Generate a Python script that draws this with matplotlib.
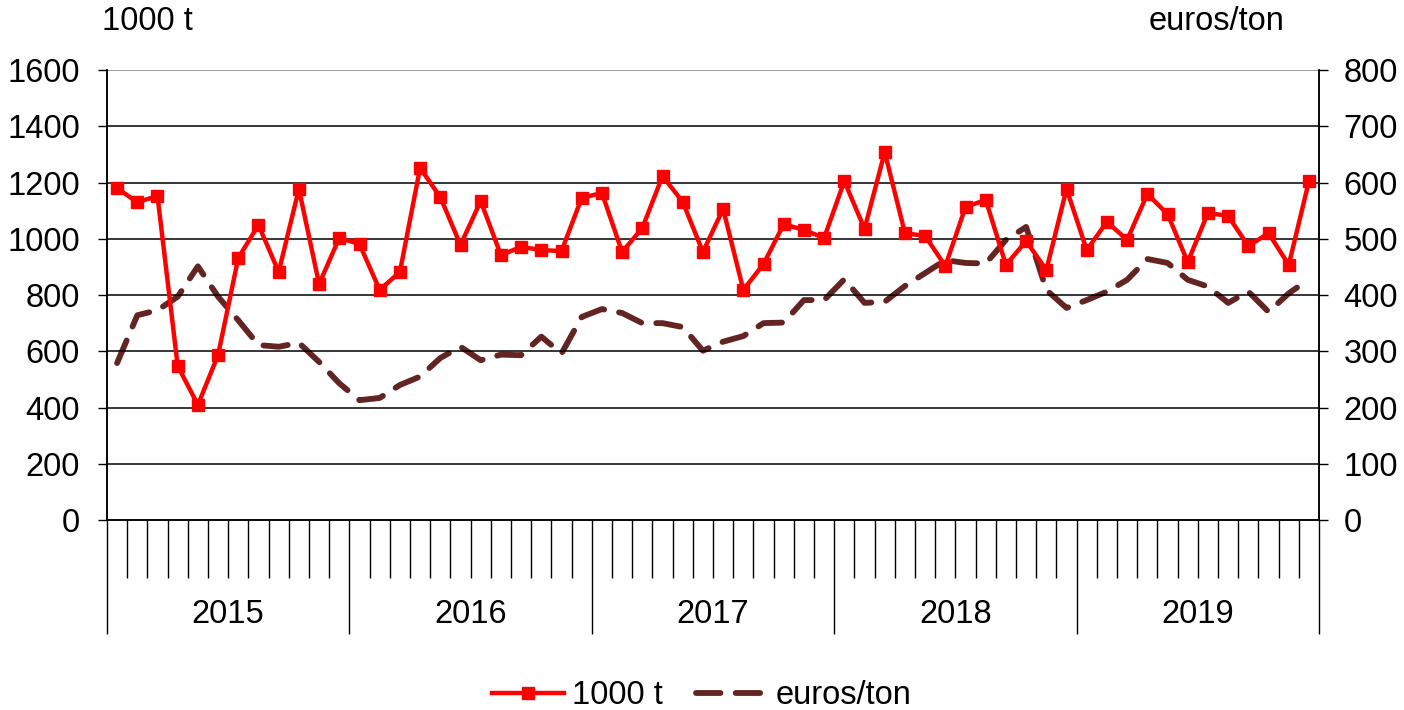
import numpy as np
import matplotlib
matplotlib.use('Agg')
import matplotlib.pyplot as plt
import matplotlib.transforms as mtransforms

plt.rcParams['font.family'] = ['Liberation Sans', 'DejaVu Sans']

years = ['2015', '2016', '2017', '2018', '2019']

# monthly quantity, 1000 t
tonnes = [1180, 1130, 1152, 548, 409, 587, 932, 1049, 882, 1177, 839, 1003,
          981, 818, 882, 1252, 1148, 978, 1134, 942, 971, 960, 956, 1145,
          1163, 953, 1038, 1223, 1131, 953, 1106, 818, 910, 1052, 1031, 1003,
          1205, 1035, 1308, 1020, 1010, 903, 1113, 1138, 907, 992, 889, 1177,
          960, 1060, 996, 1159, 1088, 917, 1092, 1081, 974, 1020, 907, 1205]

# monthly price, euros/ton
price = [279, 364, 373, 397, 451, 397, 355, 311, 308, 315, 281, 243,
         213, 217, 240, 255, 288, 308, 284, 294, 293, 326, 296, 361,
         375, 368, 350, 350, 343, 301, 317, 327, 350, 351, 391, 391,
         428, 386, 388, 416, 439, 462, 457, 456, 498, 521, 409, 377,
         391, 406, 427, 464, 457, 427, 415, 386, 406, 370, 403, 428]

x = np.arange(len(tonnes))
fs = 23.5

fig = plt.figure(figsize=(14.04, 7.10), dpi=100)
ax = fig.add_axes([0.0762, 0.2676, 0.8633, 0.6338])
ax2 = ax.twinx()

# gridlines
for v in range(200, 1601, 200):
    ax.axhline(v, color='#808080' if v == 1600 else 'black', lw=1.1, zorder=0)

l1, = ax.plot(x, tonnes, color='#FF0000', lw=3.2, marker='s', markersize=9,
              label='1000 t', zorder=3)
l2, = ax2.plot(x, price, color='#632523', lw=4.2, dashes=(4.2, 2.6),
               dash_capstyle='round', label='euros/ton', zorder=2)
ax.set_zorder(ax2.get_zorder() + 1)
ax.patch.set_visible(False)

ax.set_xlim(-0.5, len(tonnes) - 0.5)
ax.set_ylim(0, 1600)
ax2.set_ylim(0, 800)
ax.set_yticks(range(0, 1601, 200))
ax2.set_yticks(range(0, 801, 100))

ax.tick_params(axis='y', labelsize=fs, length=6.5, width=1, direction='out', pad=13)
ax2.tick_params(axis='y', labelsize=fs, length=6.5, width=1, direction='out', pad=11)

# x axis: month separators and year separators
ax.set_xticks(np.arange(0, len(tonnes) + 1, 12) - 0.5)
ax.set_xticks(np.arange(0, len(tonnes) + 1) - 0.5, minor=True)
ax.set_xticklabels([])
ax.tick_params(axis='x', which='major', length=82, width=1, direction='out')
ax.tick_params(axis='x', which='minor', length=42, width=1, direction='out')

trans = mtransforms.blended_transform_factory(ax.transData, ax.transAxes)
for i, yr in enumerate(years):
    ax.text(i * 12 + 5.5, -0.209, yr, transform=trans, ha='center', va='center',
            fontsize=fs)

for a in (ax, ax2):
    a.spines['top'].set_visible(False)
    for s in a.spines.values():
        s.set_linewidth(1.1)

fig.text(0.073, 0.97, '1000 t', ha='left', va='center', fontsize=fs)
fig.text(0.915, 0.97, 'euros/ton', ha='right', va='center', fontsize=fs)

fig.legend(handles=[l1, l2], loc='center', bbox_to_anchor=(0.5, 0.02),
           ncol=2, frameon=False, fontsize=fs, handlelength=2.2,
           columnspacing=1.0, handletextpad=0.25)

fig.savefig('out.png', dpi=100)
